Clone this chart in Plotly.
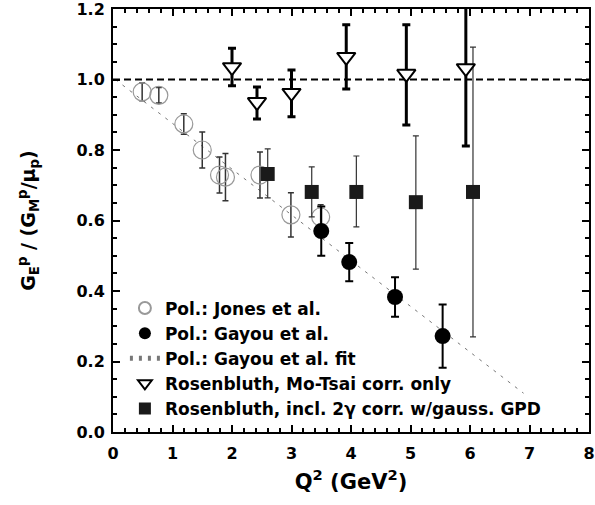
import plotly.graph_objects as go

# Pol.: Jones et al.
jones_q2 = [0.49, 0.77, 1.19, 1.50, 1.79, 1.89, 2.47, 2.99, 3.49]
jones_r = [0.965, 0.955, 0.874, 0.800, 0.729, 0.723, 0.729, 0.616, 0.610]
jones_err = [0.025, 0.022, 0.029, 0.051, 0.051, 0.067, 0.065, 0.063, 0.035]

# Pol.: Gayou et al.
gayou_q2 = [3.50, 3.97, 4.74, 5.54]
gayou_r = [0.570, 0.482, 0.383, 0.272]
gayou_err = [0.070, 0.054, 0.056, 0.090]

# Pol.: Gayou et al. fit (end points)
fit_q2 = [0.04, 6.90]
fit_r = [1.00, 0.11]

# Rosenbluth, Mo-Tsai corr. only
mt_q2 = [2.00, 2.42, 3.00, 3.92, 4.93, 5.93]
mt_r = [1.035, 0.936, 0.962, 1.064, 1.016, 1.032]
mt_err_up = [0.054, 0.043, 0.065, 0.091, 0.139, 0.250]
mt_err_dn = [0.053, 0.048, 0.068, 0.091, 0.145, 0.221]

# Rosenbluth, incl. 2-gamma corr. w/gauss. GPD
tg_q2 = [2.60, 3.34, 4.09, 5.09, 6.05]
tg_r = [0.732, 0.681, 0.681, 0.652, 0.681]
tg_err_up = [0.071, 0.071, 0.102, 0.188, 0.411]
tg_err_dn = [0.068, 0.071, 0.099, 0.190, 0.411]

ref_q2 = [0, 8]
ref_r = [1.0, 1.0]

x_ticks = [0, 1, 2, 3, 4, 5, 6, 7, 8]
y_ticks = [0.0, 0.2, 0.4, 0.6, 0.8, 1.0, 1.2]
y_ticklabels = ["0.0", "0.2", "0.4", "0.6", "0.8", "1.0", "1.2"]

FONT = "DejaVu Sans"

fig = go.Figure()

fig.add_trace(go.Scatter(x=ref_q2, y=ref_r, mode="lines", showlegend=False,
                         line=dict(color="black", width=2, dash="7px,4px")))

fig.add_trace(go.Scatter(x=fit_q2, y=fit_r, mode="lines", name="Pol.: Gayou et al. fit",
                         line=dict(color="#777", width=1, dash="3px,6px"), legendrank=3))

fig.add_trace(go.Scatter(
    x=jones_q2, y=jones_r, mode="markers", name="Pol.: Jones et al.", legendrank=1,
    marker=dict(symbol="circle-open", size=18, color="#999", line=dict(width=1.2, color="#999")),
    error_y=dict(type="data", array=jones_err, color="#333", thickness=1.5, width=3)))

fig.add_trace(go.Scatter(
    x=tg_q2, y=tg_r, mode="markers", name="Rosenbluth, incl. 2γ corr. w/gauss. GPD", legendrank=5,
    marker=dict(symbol="square", size=14, color="#1a1a1a", line=dict(width=0)),
    error_y=dict(type="data", symmetric=False, array=tg_err_up, arrayminus=tg_err_dn,
                 color="#333", thickness=1.2, width=3)))

fig.add_trace(go.Scatter(
    x=mt_q2, y=mt_r, mode="markers", name="Rosenbluth, Mo-Tsai corr. only", legendrank=4,
    marker=dict(symbol="triangle-down", size=16, color="white", line=dict(width=2, color="black")),
    error_y=dict(type="data", symmetric=False, array=mt_err_up, arrayminus=mt_err_dn,
                 color="black", thickness=3, width=4)))

fig.add_trace(go.Scatter(
    x=gayou_q2, y=gayou_r, mode="markers", name="Pol.: Gayou et al.", legendrank=2,
    marker=dict(symbol="circle", size=16, color="black"),
    error_y=dict(type="data", array=gayou_err, color="black", thickness=2, width=4)))

axis_common = dict(showline=True, linecolor="black", linewidth=2, mirror="ticks",
                   ticks="inside", ticklen=7, tickwidth=2, tickcolor="black",
                   showgrid=False, zeroline=False, ticklabeloverflow="allow", automargin=False,
                   tickfont=dict(family=FONT, size=16, color="black", weight="bold"))

fig.update_xaxes(range=[0, 8], tickmode="array", tickvals=x_ticks, ticklabelstandoff=6,
                 minor=dict(ticks="inside", ticklen=4, tickwidth=1.5, tickcolor="black", dtick=0.2, tick0=0),
                 title=dict(text="Q<sup>2</sup> (GeV<sup>2</sup>)",
                            font=dict(family=FONT, size=21, color="black", weight="bold"),
                            standoff=12),
                 **axis_common)
fig.update_yaxes(range=[0, 1.2], tickmode="array", tickvals=y_ticks, ticktext=y_ticklabels,
                 ticklabelstandoff=3,
                 minor=dict(ticks="inside", ticklen=4, tickwidth=1.5, tickcolor="black", dtick=0.05, tick0=0),
                 title=dict(text="G<sub>E</sub><sup>p</sup> / (G<sub>M</sub><sup>p</sup>/μ<sub>p</sub>)",
                            font=dict(family=FONT, size=19, color="black", weight="bold"), standoff=36),
                 **axis_common)

fig.update_layout(
    width=595, height=505,
    margin=dict(l=113, r=6, t=9, b=73),
    paper_bgcolor="white", plot_bgcolor="white",
    showlegend=True,
    legend=dict(x=0.025, y=0.013, xanchor="left", yanchor="bottom",
                bgcolor="rgba(0,0,0,0)", borderwidth=0,
                font=dict(family=FONT, size=17, color="black", weight="bold"),
                tracegroupgap=0, itemsizing="constant"),
)

fig.write_html("out.html")
